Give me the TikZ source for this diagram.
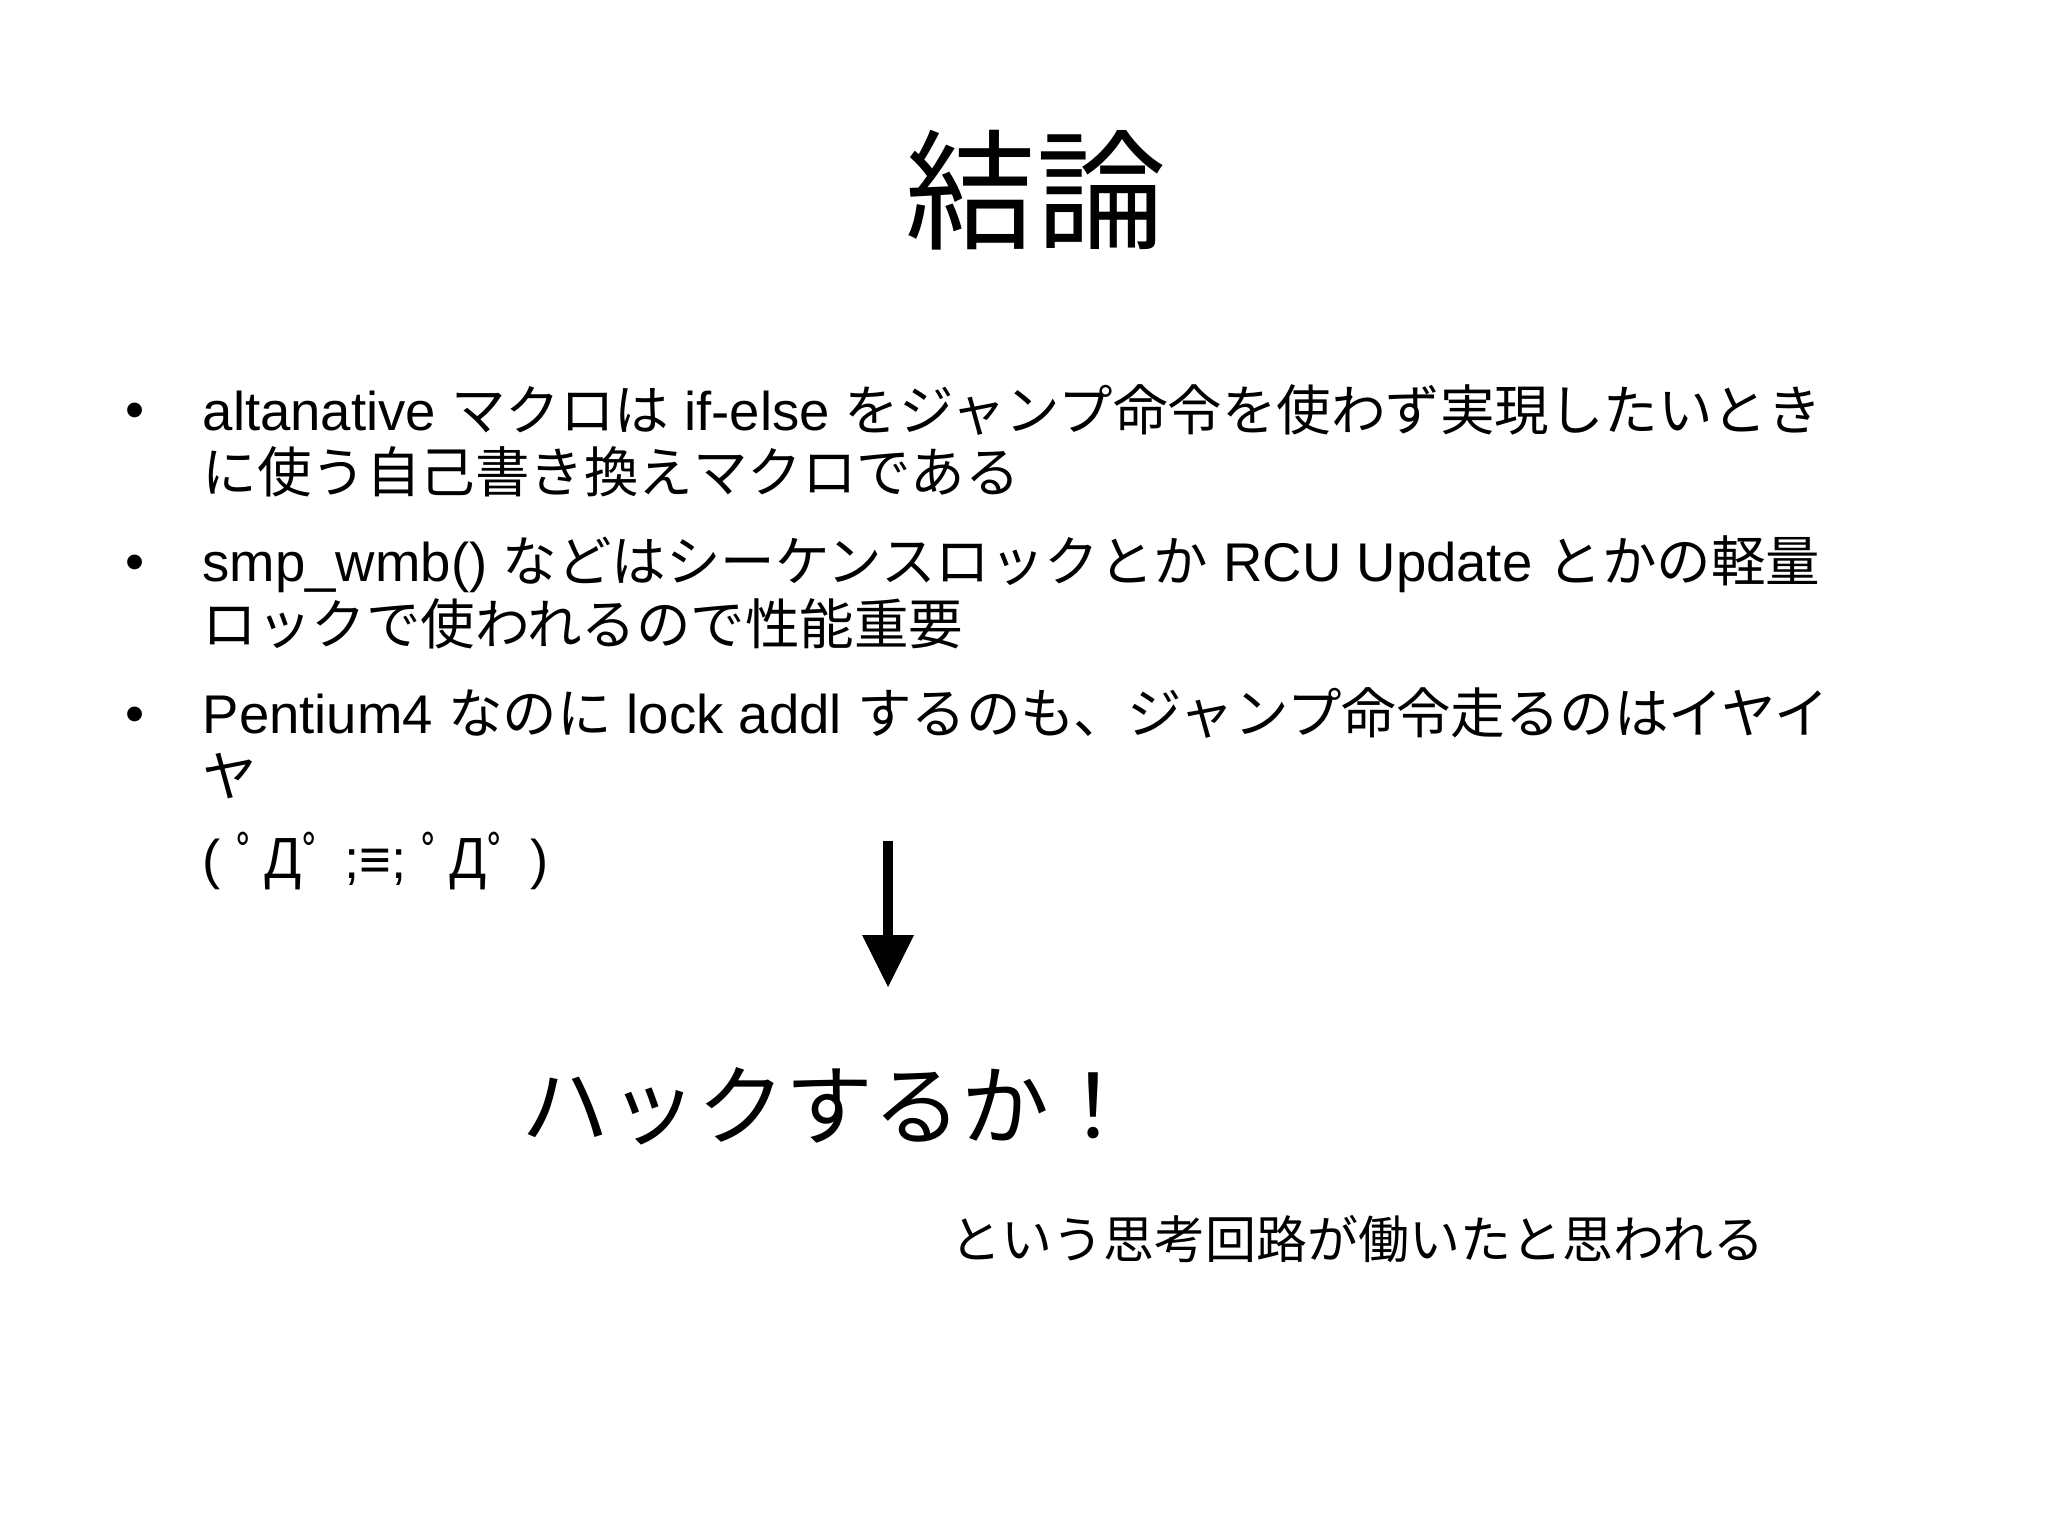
\documentclass[tikz,border=0pt]{standalone}
\usepackage{fontspec}
\setmainfont{Liberation Sans}
\newfontfamily\cjk{Noto Sans CJK JP}
\newcommand{\jp}[1]{{\cjk #1}}
\begin{document}
\begin{tikzpicture}[x=0.01cm,y=-0.01cm,
  body/.style={anchor=base west,inner sep=0,font=\fontsize{15.5pt}{18pt}\selectfont},
  bul/.style={anchor=base west,inner sep=0,font=\fontsize{15.5pt}{18pt}\selectfont}]
\useasboundingbox (0,0) rectangle (2048,1536);
\node[anchor=center,font=\cjk\fontsize{37pt}{40pt}\selectfont] (title) at (1036,190) {結論};
\node[bul] (b1) at (125,428) {•};
\node[bul] (b2) at (125,580) {•};
\node[bul] (b3) at (125,732) {•};
\node[body] (l1) at (202,430) {altanative \jp{マクロは} if-else \jp{をジャンプ命令を使わず実現したいとき}};
\node[body] (l2) at (202,492) {\jp{に使う自己書き換えマクロである}};
\node[body] (l3) at (202,581) {smp\_wmb() \jp{などはシーケンスロックとか} RCU Update \jp{とかの軽量}};
\node[body] (l4) at (202,644) {\jp{ロックで使われるので性能重要}};
\node[body] (l5) at (202,733) {Pentium4 \jp{なのに} lock addl \jp{するのも、ジャンプ命令走るのはイヤイ}};
\node[body] (l6) at (202,796) {\jp{ヤ}};
\node[body] (l7) at (202,878) {( \jp{ﾟДﾟ} ;≡; \jp{ﾟДﾟ} )};
\coordinate (a0) at (888,841);
\coordinate (a1) at (888,987);
\fill (a0) ++(-5,0) rectangle ++(10,100);
\fill (862,935) -- (914,935) -- (a1) -- cycle;
\node[anchor=base west,inner sep=0,font=\cjk\fontsize{25pt}{28pt}\selectfont] (hack) at (521,1138) {ハックするか！};
\node[anchor=base west,inner sep=0,font=\cjk\fontsize{14.5pt}{17pt}\selectfont] (note) at (950,1258) {という思考回路が働いたと思われる};
\end{tikzpicture}
\end{document}
